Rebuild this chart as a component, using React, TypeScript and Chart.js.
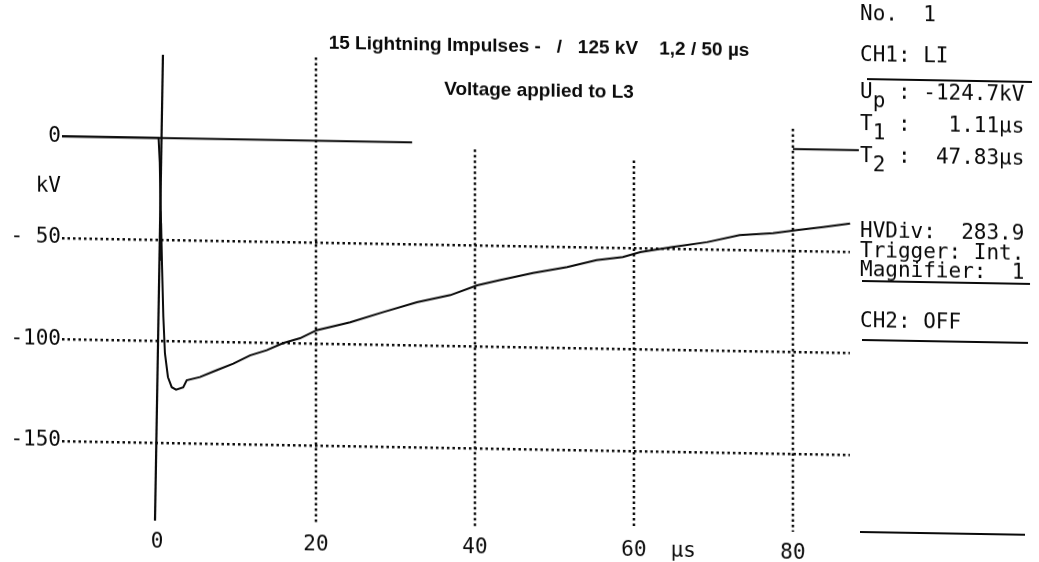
import React, { useEffect, useRef } from "react";
import { Chart, registerables } from "chart.js";

Chart.register(...registerables);

// ---------------- data ----------------
const timeUs = [
  -11.95, 0.2, 0.35, 0.45, 0.55, 0.48, 0.6, 0.52, 0.63, 0.8, 1.0, 1.38, 1.85, 2.4, 3.3,
  3.74, 5.4, 7.5, 9.6, 11.7, 13.8, 15.85, 18.0, 20.1, 24.3, 28.4, 32.7, 36.9, 40.3,
  43.1, 47.3, 51.6, 55.3, 58.6, 60.8, 64.9, 69.2, 73.3, 77.5, 80.5, 83.8, 87.2,
];
const voltageKv = [
  0, 0, -12, -33, -52, -36, -60, -42, -62, -88, -106, -117.7, -122.6, -123.8, -122.6,
  -119.1, -117.4, -113.9, -110.5, -106.3, -103.6, -100.0, -97.4, -93.3, -89.1, -83.9,
  -78.7, -74.9, -69.8, -67.1, -63.3, -60.1, -56.4, -54.7, -52.1, -49.3, -46.6, -42.9,
  -41.6, -39.9, -38.2, -36.2,
];
const zeroRefLeftUs = [-11.95, 32.1];
const zeroRefRightUs = [80, 88.3];
const cursorUs = [0.75, -0.25];
const cursorKv = [41, -188.5];

const xTickValues = [0, 20, 40, 60, 80, 66.2];
const xTickLabels = ["0", "20", "40", "60", "80", "µs"];
const yTickValues = [0, -25, -50, -100, -150];
const yTickLabels = ["0", "kV", "- 50", "-100", "-150"];
const gridLineUs = [20, 40, 60, 80];
const gridTopKv = [41, -3, -7, 10];

const titleLines = [
  "15 Lightning Impulses -   /   125 kV    1,2 / 50 µs",
  "Voltage applied to L3",
];
const panelHeader = "No.  1";
const ch1Line = "CH1: LI";
const measureNames = ["U", "T", "T"];
const measureSubs = ["p", "1", "2"];
const measureValues = ["-124.7kV", "1.11µs", "47.83µs"];
const settingsLines = ["HVDiv:  283.9", "Trigger: Int.", "Magnifier:  1"];
const ch2Line = "CH2: OFF";

// ---------------------------------------------------------------
const MONO = '"DejaVu Sans Mono", monospace';
const INK = "#0a0a0a";

const vGridPlugin = {
  id: "vgrid",
  beforeDatasetsDraw(chart: any) {
    const { ctx, chartArea, scales } = chart;
    ctx.save();
    ctx.strokeStyle = INK;
    ctx.lineWidth = 2.5;
    ctx.setLineDash([2.5, 3]);
    gridLineUs.forEach((t, i) => {
      const x = Math.round(scales.x.getPixelForValue(t));
      const yTop = scales.y.getPixelForValue(gridTopKv[i]);
      ctx.beginPath();
      ctx.moveTo(x, yTop);
      ctx.lineTo(x, chartArea.bottom);
      ctx.stroke();
    });
    ctx.restore();
  },
};

const pts = (xs: number[], ys: number[]) => xs.map((x, i) => ({ x, y: ys[i] }));

export default function App() {
  const ref = useRef<HTMLCanvasElement | null>(null);

  useEffect(() => {
    if (!ref.current) return;
    const lineDs = (data: any[], width: number) => ({
      data,
      showLine: true,
      borderColor: INK,
      borderWidth: width,
      pointRadius: 0,
      tension: 0,
      clip: false as any,
    });
    const chart = new Chart(ref.current, {
      type: "scatter",
      data: {
        datasets: [
          lineDs(pts(timeUs, voltageKv), 2),
          lineDs(pts(zeroRefLeftUs, [0, 0]), 1.8),
          lineDs(pts(zeroRefRightUs, [0, 0]), 1.8),
          lineDs(pts(cursorUs, cursorKv), 2.2),
        ] as any,
      },
      options: {
        responsive: false,
        animation: false,
        devicePixelRatio: 1,
        layout: { padding: { top: 53, right: 189, bottom: 0, left: 0 } },
        plugins: {
          legend: { display: false },
          tooltip: { enabled: false },
          title: { display: false },
        },
        scales: {
          x: {
            type: "linear",
            min: -11.95,
            max: 87.17,
            afterBuildTicks: (s: any) => {
              s.ticks = xTickValues.map((v) => ({ value: v }));
            },
            afterFit: (s: any) => {
              s.height = 43;
            },
            ticks: {
              autoSkip: false,
              maxRotation: 0,
              minRotation: 0,
              padding: 9,
              color: INK,
              font: { family: MONO, size: 21 },
              callback: (_v: any, i: number) => xTickLabels[i],
            },
            grid: { display: false, drawTicks: false },
            border: { display: false },
          },
          y: {
            type: "linear",
            min: -188.5,
            max: 41,
            afterBuildTicks: (s: any) => {
              s.ticks = yTickValues.map((v) => ({ value: v }));
            },
            afterFit: (s: any) => {
              s.width = 62;
            },
            ticks: {
              autoSkip: false,
              padding: 1,
              color: INK,
              font: { family: MONO, size: 21 },
              callback: (_v: any, i: number) => yTickLabels[i],
            },
            grid: {
              drawTicks: false,
              lineWidth: 2.5,
              color: (c: any) =>
                c.tick && (c.tick.value === 0 || c.tick.value === -25) ? "rgba(0,0,0,0)" : INK,
            },
            border: { display: false, dash: [2.5, 3] },
          },
        } as any,
      },
      plugins: [vGridPlugin],
    });
    return () => chart.destroy();
  }, []);

  const monoRow = (top: number): React.CSSProperties => ({
    position: "absolute",
    left: 860,
    top: top - 10,
    fontFamily: MONO,
    fontSize: 21,
    lineHeight: "21px",
    whiteSpace: "pre",
    color: INK,
  });
  const rule = (top: number, left: number, width: number): React.CSSProperties => ({
    position: "absolute",
    left,
    top,
    width,
    height: 2,
    background: INK,
  });
  const titleStyle = (top: number): React.CSSProperties => ({
    position: "absolute",
    left: 239,
    width: 600,
    top,
    textAlign: "center",
    fontFamily: '"Liberation Sans", Arial, sans-serif',
    fontWeight: "bold",
    fontSize: 19,
    lineHeight: "19px",
    whiteSpace: "pre",
    color: INK,
  });
  const measureTops = [77, 109, 141];
  const settingsTops = [216, 236, 255];

  return (
    <div
      style={{
        position: "fixed",
        left: 0,
        top: 0,
        width: 1039,
        height: 562,
        overflow: "hidden",
        background: "#fff",
      }}
    >
      <div
        style={{
          position: "absolute",
          left: 0,
          top: 0,
          width: 1039,
          height: 562,
          transform: "skewY(1deg)",
          transformOrigin: "60px 136px",
        }}
      >
        <canvas
          ref={ref}
          width={1039}
          height={562}
          style={{ position: "absolute", left: 0, top: 0 }}
        />
        <div style={titleStyle(28)}>{titleLines[0]}</div>
        <div style={titleStyle(72)}>{titleLines[1]}</div>

        <div style={monoRow(-1)}>{panelHeader}</div>
        <div style={monoRow(40)}>{ch1Line}</div>
        <div style={rule(64, 867, 165)} />
        {measureNames.map((n, i) => (
          <div key={i} style={monoRow(measureTops[i])}>
            <span>{n}</span>
            <span style={{ position: "relative", top: 9 }}>{measureSubs[i]}</span>
            <span>{" :" + measureValues[i].padStart(9)}</span>
          </div>
        ))}
        {settingsLines.map((s, i) => (
          <div key={i} style={monoRow(settingsTops[i])}>
            {s}
          </div>
        ))}
        <div style={rule(266, 862, 168)} />
        <div style={monoRow(306)}>{ch2Line}</div>
        <div style={rule(325, 862, 166)} />
        <div style={rule(517, 860, 165)} />
      </div>
    </div>
  );
}
